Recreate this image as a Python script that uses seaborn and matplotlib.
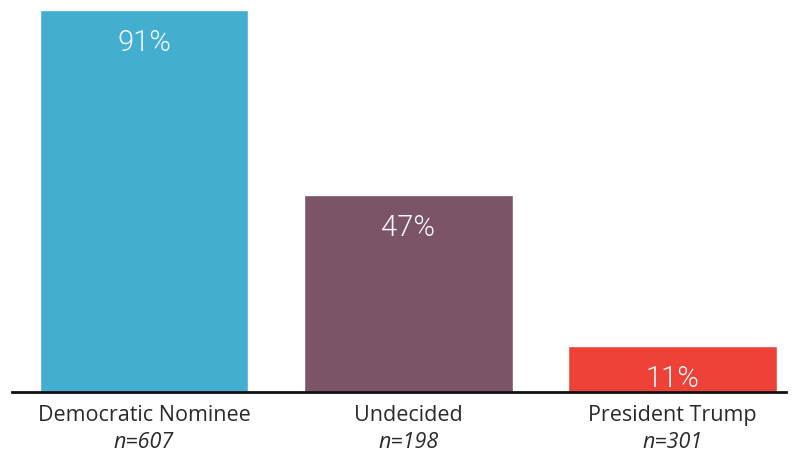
import matplotlib
matplotlib.use("Agg")
import matplotlib.pyplot as plt
import seaborn as sns
import pandas as pd

categories = ["Democratic Nominee", "Undecided", "President Trump"]
sample_sizes = ["n=607", "n=198", "n=301"]
values = [91, 47, 11]
colors = ["#42AFD1", "#7B5468", "#EE4137"]

df = pd.DataFrame({"cat": categories, "val": values})

sns.set_theme(style="white")
plt.rcParams["font.family"] = ["Open Sans", "DejaVu Sans"]

fig = plt.figure(figsize=(7.92, 4.53), dpi=100)
ax = fig.add_axes([12 / 792, 1 - 392 / 453, (786 - 12) / 792, (392 - 10) / 453])

sns.barplot(data=df, x="cat", y="val", hue="cat", palette=colors, legend=False,
            width=0.79, saturation=1, ax=ax)

ax.set_xlim(-0.5, 2.43)
ax.set_ylim(0, 91)
for s in ["top", "right", "left"]:
    ax.spines[s].set_visible(False)
ax.spines["bottom"].set_color("#111111")
ax.spines["bottom"].set_linewidth(2)
ax.set_yticks([])
ax.set_xticks([])
ax.set_xlabel("")
ax.set_ylabel("")

for i, (v, c, n) in enumerate(zip(values, categories, sample_sizes)):
    ax.annotate(f"{v}%", (i, v), xytext=(0, -24), textcoords="offset points",
                ha="center", va="center", color="#f4f8fa", fontsize=21,
                family=["Roboto", "DejaVu Sans"], fontweight=300)
    ax.text(i, -0.062, c, transform=ax.get_xaxis_transform(), ha="center",
            va="center", fontsize=15.5, color="#2a2a2a")
    ax.text(i, -0.133, n, transform=ax.get_xaxis_transform(), ha="center",
            va="center", fontsize=15.5, color="#2a2a2a", style="italic")

fig.savefig("out.png", dpi=100)
